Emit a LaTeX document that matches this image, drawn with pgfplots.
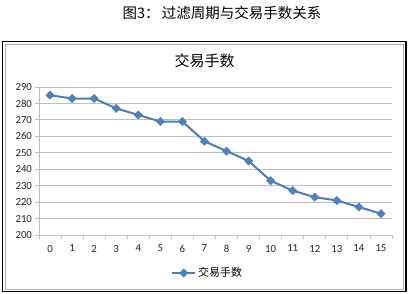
\documentclass[border=0pt]{standalone}
\usepackage{pgfplots}
\pgfplotsset{compat=1.18}
\usepackage{fontspec}
\setmainfont{Carlito}
\newfontfamily\cjk{Noto Sans CJK SC}
\definecolor{xlblue}{HTML}{4A7EBB}
\definecolor{xlmark}{HTML}{4F81BD}
\definecolor{gridc}{HTML}{BFBFBF}
\begin{document}
\begin{tikzpicture}[x=1pt,y=1pt]
\path[use as bounding box] (0,0) rectangle (411,293);
\draw[black, line width=1.2pt] (2.5,1.5) rectangle (406,251.5);
\draw[gray!60, line width=0.6pt] (5.5,4) rectangle (403,248.5);
\node[font=\cjk\fontsize{14.5}{16}\selectfont] at (222,280.5) {图3：\,过滤周期与交易手数关系};
\node[font=\cjk\fontsize{15}{17}\selectfont] at (204.5,232) {交易手数};
\begin{axis}[
  at={(39pt,58pt)}, anchor=south west, scale only axis,
  width=353pt, height=148pt,
  xmin=-0.5, xmax=15.5, ymin=200, ymax=290,
  ytick={200,210,...,290},
  xtick={0,...,15},
  minor xtick={-0.5,0.5,...,15.5},
  axis x line*=bottom, axis y line*=left,
  axis line style={draw=gridc, line width=0.8pt, -},
  tick align=outside,
  major tick length=4pt, minor tick length=4pt,
  major x tick style={draw=none},
  minor x tick style={draw=gridc, line width=0.8pt},
  ytick style={draw=gridc, line width=0.8pt},
  ymajorgrids, grid style={draw=gridc, line width=0.8pt},
  /pgf/number format/assume math mode=true,
  ticklabel style={font=\fontsize{10.8}{12}\selectfont, text=black!85},
  yticklabel style={xshift=0.5pt},
  xticklabel style={yshift=-2.5pt},
  legend style={at={(0.478,-0.257)}, anchor=center, draw=none, fill=none,
    font=\cjk\fontsize{11}{13}\selectfont, inner sep=1pt},
  legend image code/.code={\draw[mark repeat=2,mark phase=2] plot coordinates {(0cm,0cm)(0.4cm,0cm)(0.8cm,0cm)};},
]
\addplot[color=xlblue, line width=2pt, mark=square*, mark size=2.9pt,
  mark options={rotate=45, fill=xlmark, draw=xlblue, line width=0.5pt}]
  coordinates {(0,285)(1,283)(2,283)(3,277)(4,273)(5,269)(6,269)(7,257)
  (8,251)(9,245)(10,233)(11,227)(12,223)(13,221)(14,217)(15,213)};
\addlegendentry{交易手数}
\end{axis}
\end{tikzpicture}
\end{document}
